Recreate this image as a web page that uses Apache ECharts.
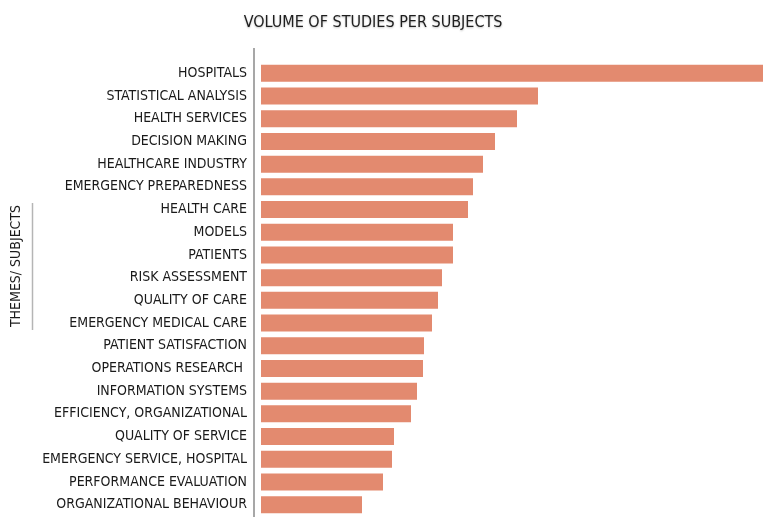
<!DOCTYPE html>
<html>
<head>
<meta charset="utf-8">
<style>
  html, body { margin: 0; padding: 0; background: #ffffff; }
  #chart { width: 763px; height: 517px; }
</style>
<script src="https://cdn.jsdelivr.net/npm/echarts@6/dist/echarts.min.js"></script>
</head>
<body>
<div id="chart"></div>
<script>
// Subjects, listed top to bottom
const subjects = [
  'HOSPITALS',
  'STATISTICAL ANALYSIS',
  'HEALTH SERVICES',
  'DECISION MAKING',
  'HEALTHCARE INDUSTRY',
  'EMERGENCY PREPAREDNESS',
  'HEALTH CARE',
  'MODELS',
  'PATIENTS',
  'RISK ASSESSMENT',
  'QUALITY OF CARE',
  'EMERGENCY MEDICAL CARE',
  'PATIENT SATISFACTION',
  'OPERATIONS RESEARCH ',
  'INFORMATION SYSTEMS',
  'EFFICIENCY, ORGANIZATIONAL',
  'QUALITY OF SERVICE',
  'EMERGENCY SERVICE, HOSPITAL',
  'PERFORMANCE EVALUATION',
  'ORGANIZATIONAL BEHAVIOUR'
];

// Relative volume of studies for each subject
const studyVolume = [
  502, 277, 256, 234, 222, 212, 207, 192, 192, 181,
  177, 171, 163, 162, 156, 150, 133, 131, 122, 101
];

const chartTitle = 'VOLUME OF STUDIES PER SUBJECTS';
const axisTitle = 'THEMES/ SUBJECTS';

const FONT = '"Liberation Sans Narrow", "DejaVu Sans Condensed", "Liberation Sans", sans-serif';

const chart = echarts.init(document.getElementById('chart'), null, { renderer: 'canvas' });

chart.setOption({
  backgroundColor: '#ffffff',
  animation: false,
  title: {
    text: chartTitle,
    left: 368,
    top: 10,
    textAlign: 'center',
    textStyle: {
      fontFamily: FONT,
      fontSize: 16,
      fontWeight: 'normal',
      color: '#1e1e1e',
      textShadowColor: 'rgba(0,0,0,0.25)',
      textShadowBlur: 2,
      textShadowOffsetY: 1
    }
  },
  grid: {
    left: 261,
    right: 0,
    top: 62,
    bottom: 1,
    containLabel: false
  },
  xAxis: {
    type: 'value',
    min: 0,
    max: Math.max(...studyVolume),
    show: false
  },
  yAxis: {
    type: 'category',
    data: subjects,
    inverse: true,
    axisLine: { show: false },
    axisTick: { show: false },
    splitLine: { show: false },
    axisLabel: {
      margin: 14,
      fontFamily: FONT,
      fontSize: 14,
      color: '#1a1a1a'
    }
  },
  graphic: [
    {
      // category axis rule, standing a little apart from the bars
      type: 'line',
      shape: { x1: 254, y1: 48, x2: 254, y2: 517 },
      style: { stroke: '#8a8a8a', lineWidth: 1.5 },
      silent: true
    },
    {
      type: 'text',
      x: 16,
      y: 266,
      rotation: Math.PI / 2,
      style: {
        text: axisTitle,
        font: '14px ' + FONT,
        fill: '#1a1a1a',
        align: 'center',
        verticalAlign: 'middle'
      },
      silent: true
    },
    {
      type: 'line',
      shape: { x1: 32.5, y1: 203, x2: 32.5, y2: 330 },
      style: { stroke: '#b5b5b5', lineWidth: 1.5 },
      silent: true
    }
  ],
  series: [
    {
      type: 'bar',
      data: studyVolume,
      barWidth: 17,
      itemStyle: { color: '#e38a6f' },
      label: { show: false }
    }
  ]
});
</script>
</body>
</html>
